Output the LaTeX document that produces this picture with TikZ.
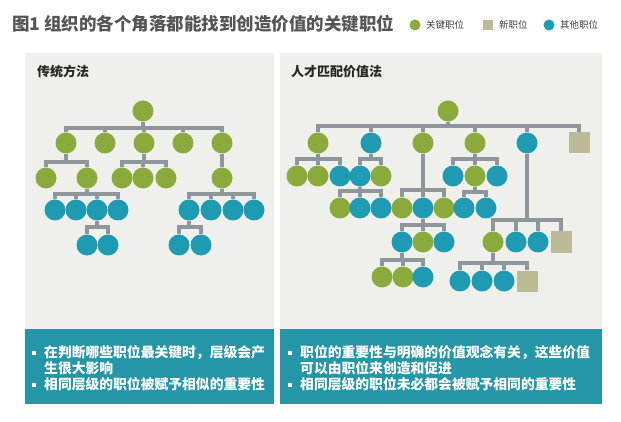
\documentclass[tikz,border=0pt]{standalone}
\usepackage{fontspec}
\setmainfont{Noto Sans CJK SC}
\definecolor{cgreen}{HTML}{8AAA3B}
\definecolor{cteal}{HTML}{1E9BB3}
\definecolor{ctan}{HTML}{BDBA97}
\definecolor{cline}{HTML}{8F969B}
\definecolor{cpanel}{HTML}{EFEFEB}
\definecolor{cbox}{HTML}{2496A8}
\definecolor{ctitle}{HTML}{555555}
\begin{document}
\begin{tikzpicture}[x=1pt,y=-1pt,
  kp/.style={circle,fill=cgreen,minimum size=21pt,inner sep=0pt},
  op/.style={circle,fill=cteal,minimum size=21pt,inner sep=0pt},
  np/.style={rectangle,fill=ctan,minimum size=21pt,inner sep=0pt},
  conn/.style={draw=cline,line width=3.1pt},
  drop/.style={to path={(\tikztostart) -- (\tikztostart |- 0,#1) -| (\tikztotarget)}},
  heading/.style={anchor=west,inner sep=0pt,font=\fontsize{13}{15}\selectfont\bfseries,text=black!85},
  bul/.style={anchor=west,inner sep=0pt,font=\fontsize{13.8}{16}\selectfont\bfseries,text=white},
  sq/.style={fill=white,minimum size=4pt,inner sep=0pt},
  legtxt/.style={anchor=west,inner sep=0pt,font=\fontsize{9.5}{11}\selectfont,text=black!75}
]
\fill[white] (0,0) rectangle (621,422);
\useasboundingbox (0,0) rectangle (621,422);

% title and legend
\node[anchor=west,inner sep=0pt,font=\fontsize{17.5}{20}\selectfont\bfseries,text=ctitle] (title) at (12,23.5) {图1 组织的各个角落都能找到创造价值的关键职位};
\node[circle,fill=cgreen,minimum size=11pt,inner sep=0pt] (lg1) at (415,25) {};
\node[legtxt] (lt1) at (426,25) {关键职位};
\node[fill=ctan,minimum size=10pt,inner sep=0pt] (lg2) at (488,25) {};
\node[legtxt] (lt2) at (499,25) {新职位};
\node[circle,fill=cteal,minimum size=11pt,inner sep=0pt] (lg3) at (549,25) {};
\node[legtxt] (lt3) at (560,25) {其他职位};

% panels
\fill[cpanel] (25,53) rectangle (274,329);
\fill[cpanel] (280,53) rectangle (602,329);
\fill[cbox] (25,329) rectangle (274,404);
\fill[cbox] (280,329) rectangle (602,404);
\node[heading] (h1) at (37,72) {传统方法};
\node[heading] (h2) at (291,72) {人才匹配价值法};

% ---------- left tree ----------
\node[kp] (r) at (143,111) {};
\foreach \n/\x in {a1/66,a2/105,a3/144,a4/183,a5/222} \node[kp] (\n) at (\x,143) {};
\foreach \n/\x in {b1/46,b2/87,b3/122,b4/143,b5/166,b6/222} \node[kp] (\n) at (\x,178) {};
\foreach \n/\x in {c1/55,c2/76,c3/97,c4/118,c5/189,c6/211,c7/233,c8/254} \node[op] (\n) at (\x,210) {};
\foreach \n/\x in {d1/87,d2/108,d3/179,d4/201} \node[op] (\n) at (\x,245) {};

\foreach \c in {a1,a2,a3,a4,a5} \draw[conn] (r) to[drop=128] (\c);
\foreach \c in {b1,b2} \draw[conn] (a1) to[drop=162] (\c);
\foreach \c in {b3,b4,b5} \draw[conn] (a3) to[drop=162] (\c);
\draw[conn] (a5) to[drop=162] (b6);
\foreach \c in {c1,c2,c3,c4} \draw[conn] (b2) to[drop=194] (\c);
\foreach \c in {c5,c6,c7,c8} \draw[conn] (b6) to[drop=194] (\c);
\foreach \c in {d1,d2} \draw[conn] (c3) to[drop=227] (\c);
\foreach \c in {d3,d4} \draw[conn] (c5) to[drop=227] (\c);

% ---------- right tree ----------
\node[kp] (R) at (448,111) {};
\node[kp] (e1) at (318,143) {};
\node[op] (e2) at (371,143) {};
\node[kp] (e3) at (423,143) {};
\node[kp] (e4) at (475,143) {};
\node[op] (e5) at (527,143) {};
\node[np] (e6) at (579,143) {};

\node[kp] (f1) at (297,176) {};
\node[kp] (f2) at (318,176) {};
\node[op] (f3) at (340,176) {};
\node[op] (f4) at (360,176) {};
\node[kp] (f5) at (381,176) {};
\node[op] (f6) at (453,176) {};
\node[kp] (f7) at (475,176) {};
\node[op] (f8) at (497,176) {};

\node[kp] (g1) at (340,208) {};
\node[op] (g2) at (360,208) {};
\node[op] (g3) at (381,208) {};
\node[kp] (g4) at (402,208) {};
\node[op] (g5) at (423,208) {};
\node[kp] (g6) at (444,208) {};
\node[op] (g7) at (464,208) {};
\node[op] (g8) at (486,208) {};

\node[op] (k1) at (402,242) {};
\node[kp] (k2) at (423,242) {};
\node[op] (k3) at (444,242) {};
\node[kp] (k4) at (493,242) {};
\node[op] (k5) at (516,242) {};
\node[op] (k6) at (538,242) {};
\node[np] (k7) at (561,242) {};

\node[kp] (i1) at (382,277) {};
\node[kp] (i2) at (403,277) {};
\node[op] (i3) at (423,277) {};
\node[op] (i4) at (460,281) {};
\node[op] (i5) at (482,281) {};
\node[op] (i6) at (504,281) {};
\node[np] (i7) at (527,281) {};

\foreach \c in {e1,e2,e3,e4,e5,e6} \draw[conn] (R) to[drop=126] (\c);
\foreach \c in {f1,f2,f3} \draw[conn] (e1) to[drop=159] (\c);
\foreach \c in {f4,f5} \draw[conn] (e2) to[drop=159] (\c);
\foreach \c in {f6,f7,f8} \draw[conn] (e4) to[drop=159] (\c);
\foreach \c in {g1,g2,g3} \draw[conn] (f4) to[drop=191] (\c);
\foreach \c in {g4,g5,g6} \draw[conn] (e3) to[drop=190] (\c);
\foreach \c in {g7,g8} \draw[conn] (f7) to[drop=192] (\c);
\foreach \c in {k1,k2,k3} \draw[conn] (g5) to[drop=225] (\c);
\foreach \c in {k4,k5,k6,k7} \draw[conn] (e5) to[drop=220] (\c);
\foreach \c in {i1,i2,i3} \draw[conn] (k1) to[drop=260] (\c);
\foreach \c in {i4,i5,i6,i7} \draw[conn] (k4) to[drop=263] (\c);

% ---------- bottom texts ----------
\node[sq] (s1) at (34,352.5) {};
\node[bul] (t1a) at (44,352.5) {在判断哪些职位最关键时，层级会产};
\node[bul] (t1b) at (44,368.5) {生很大影响};
\node[sq] (s2) at (34,384.5) {};
\node[bul] (t2) at (44,384.5) {相同层级的职位被赋予相似的重要性};

\node[sq] (s3) at (290,352.5) {};
\node[bul] (t3a) at (300,352.5) {职位的重要性与明确的价值观念有关，这些价值};
\node[bul] (t3b) at (300,368.5) {可以由职位来创造和促进};
\node[sq] (s4) at (290,384.5) {};
\node[bul] (t4) at (300,384.5) {相同层级的职位未必都会被赋予相同的重要性};
\end{tikzpicture}
\end{document}
